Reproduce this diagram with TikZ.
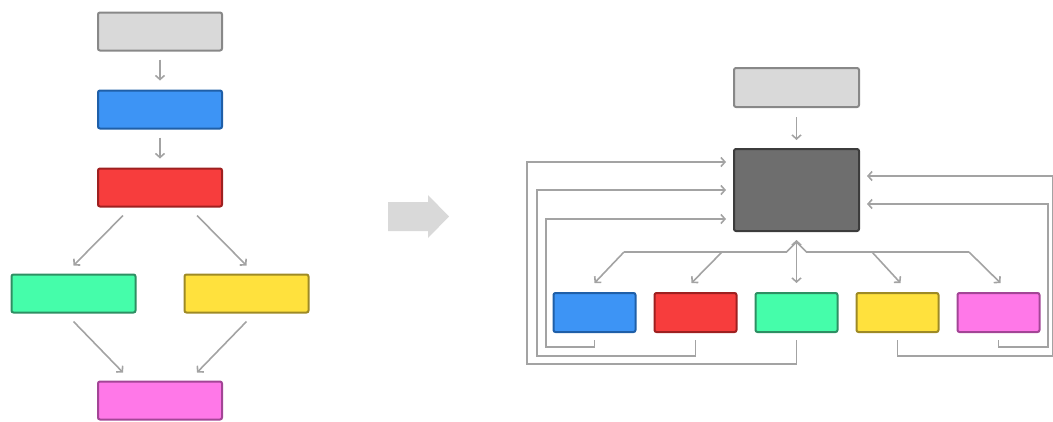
\documentclass[tikz,border=0pt]{standalone}
\usepackage{tikz}
\usetikzlibrary{positioning,arrows.meta}

\definecolor{boxgray}{HTML}{D9D9D9}
\definecolor{linegray}{HTML}{888888}
\definecolor{boxblue}{HTML}{3D94F5}
\definecolor{lineblue}{HTML}{1F5FA8}
\definecolor{boxred}{HTML}{F73D3D}
\definecolor{linered}{HTML}{9E2020}
\definecolor{boxgreen}{HTML}{45FDAA}
\definecolor{linegreen}{HTML}{2E8F63}
\definecolor{boxyellow}{HTML}{FFE13D}
\definecolor{lineyellow}{HTML}{9E8A25}
\definecolor{boxpink}{HTML}{FF78E8}
\definecolor{linepink}{HTML}{A34596}
\definecolor{boxdark}{HTML}{6E6E6E}
\definecolor{linedark}{HTML}{3C3C3C}
\definecolor{arrowgray}{HTML}{A3A3A3}

\begin{document}
\begin{tikzpicture}[x=1pt, y=-1pt, node distance=38pt]
    \tikzstyle{block}=[rectangle, rounded corners=2pt, line width=2pt, inner sep=0pt, minimum width=124pt, minimum height=38pt]
    \tikzstyle{small}=[block, minimum width=82pt, minimum height=39pt]
    \tikzstyle{connect}=[-{Straight Barb[length=4pt,width=9pt]}, line width=1.6pt, draw=arrowgray]
    \tikzstyle{wire}=[line width=1.6pt, draw=arrowgray]

      \useasboundingbox (0,0) rectangle (1053,421);

      % before: a plain chain that forks and joins again
      \node[block, fill=boxgray, draw=linegray] (grayL) at (160,31.5) {};
      \node[block, fill=boxblue, draw=lineblue] (blueL) [below=of grayL] {};
      \node[block, fill=boxred, draw=linered] (redL) [below=of blueL] {};
      \node[block, fill=boxgreen, draw=linegreen] (greenL) at (73.5,293.5) {};
      \node[block, fill=boxyellow, draw=lineyellow] (yellowL) at (246.5,293.5) {};
      \node[block, fill=boxpink, draw=linepink] (pinkL) at (160,400.5) {};
      \path
        (grayL) edge [connect, shorten <=8pt, shorten >=9pt] (blueL)
        (blueL) edge [connect, shorten <=8pt, shorten >=9pt] (redL);
      \draw[connect] ([xshift=-37pt,yshift=-8pt]redL.south) -- ([yshift=8pt]greenL.north);
      \draw[connect] ([xshift=37pt,yshift=-8pt]redL.south) -- ([yshift=8pt]yellowL.north);
      \draw[connect] ([yshift=-8pt]greenL.south) -- ([xshift=-37pt,yshift=8pt]pinkL.north);
      \draw[connect] ([yshift=-8pt]yellowL.south) -- ([xshift=37pt,yshift=8pt]pinkL.north);

      % big arrow
      \fill[boxgray] (388,202) -- (428,202) -- (428,195) -- (449,216.5) -- (428,238) -- (428,231) -- (388,231) -- cycle;

      % after: one hub that dispatches and collects
      \node[block, fill=boxgray, draw=linegray, minimum height=39pt, minimum width=125pt] (grayR) at (796.5,87.5) {};
      \node[block, fill=boxdark, draw=linedark, minimum height=82pt, minimum width=125pt] (darkR) [below=40pt of grayR] {};
      \node[small, fill=boxgreen, draw=linegreen] (greenR) at (796.5,312.5) {};
      \node[small, fill=boxred, draw=linered] (redR) [left=17pt of greenR] {};
      \node[small, fill=boxblue, draw=lineblue] (blueR) [left=17pt of redR] {};
      \node[small, fill=boxyellow, draw=lineyellow] (yellowR) [right=17pt of greenR] {};
      \node[small, fill=boxpink, draw=linepink] (pinkR) [right=17pt of yellowR] {};

      \path (grayR) edge [connect, shorten <=9pt, shorten >=8pt] (darkR);

      \coordinate (hub) at ([yshift=-10pt]darkR.south);
      \coordinate (busL) at (624,252);
      \coordinate (busR) at (969,252);
      \draw[connect, {Straight Barb[length=4pt,width=9pt]}-{Straight Barb[length=4pt,width=9pt]}] ([yshift=-8pt]darkR.south) -- ([yshift=9pt]greenR.north);
      \draw[wire] (hub) -- ++(-10,10) -- (busL);
      \draw[wire] (hub) -- ++(10,10) -- (busR);
      \draw[connect] (busL) -- ([yshift=9pt]blueR.north);
      \draw[connect] (722,252) -- ([xshift=-4pt,yshift=9pt]redR.north);
      \draw[connect] (872,252) -- ([xshift=3pt,yshift=9pt]yellowR.north);
      \draw[connect] (busR) -- ([xshift=2pt,yshift=9pt]pinkR.north);

      % results go back into the hub
      \draw[connect] ([yshift=-7pt]blueR.south) -- ++(0,7) -- ++(-48.5,0) -- ++(0,-128) -- ([xshift=-7pt,yshift=-29pt]darkR.west);
      \draw[connect] ([yshift=-7pt]redR.south) -- ++(0,16) -- ++(-158.5,0) -- ++(0,-166) -- ([xshift=-7pt]darkR.west);
      \draw[connect] ([yshift=-7pt]greenR.south) -- ++(0,24) -- ++(-269.5,0) -- ++(0,-202) -- ([xshift=-7pt,yshift=28pt]darkR.west);
      \draw[connect] ([yshift=-7pt]yellowR.south) -- ++(0,16) -- ++(155,0) -- ++(0,-180) -- ([xshift=7pt,yshift=14pt]darkR.east);
      \draw[connect] ([yshift=-7pt]pinkR.south) -- ++(0,7) -- ++(49.5,0) -- ++(0,-143) -- ([xshift=7pt,yshift=-14pt]darkR.east);
    \end{tikzpicture}
\end{document}
